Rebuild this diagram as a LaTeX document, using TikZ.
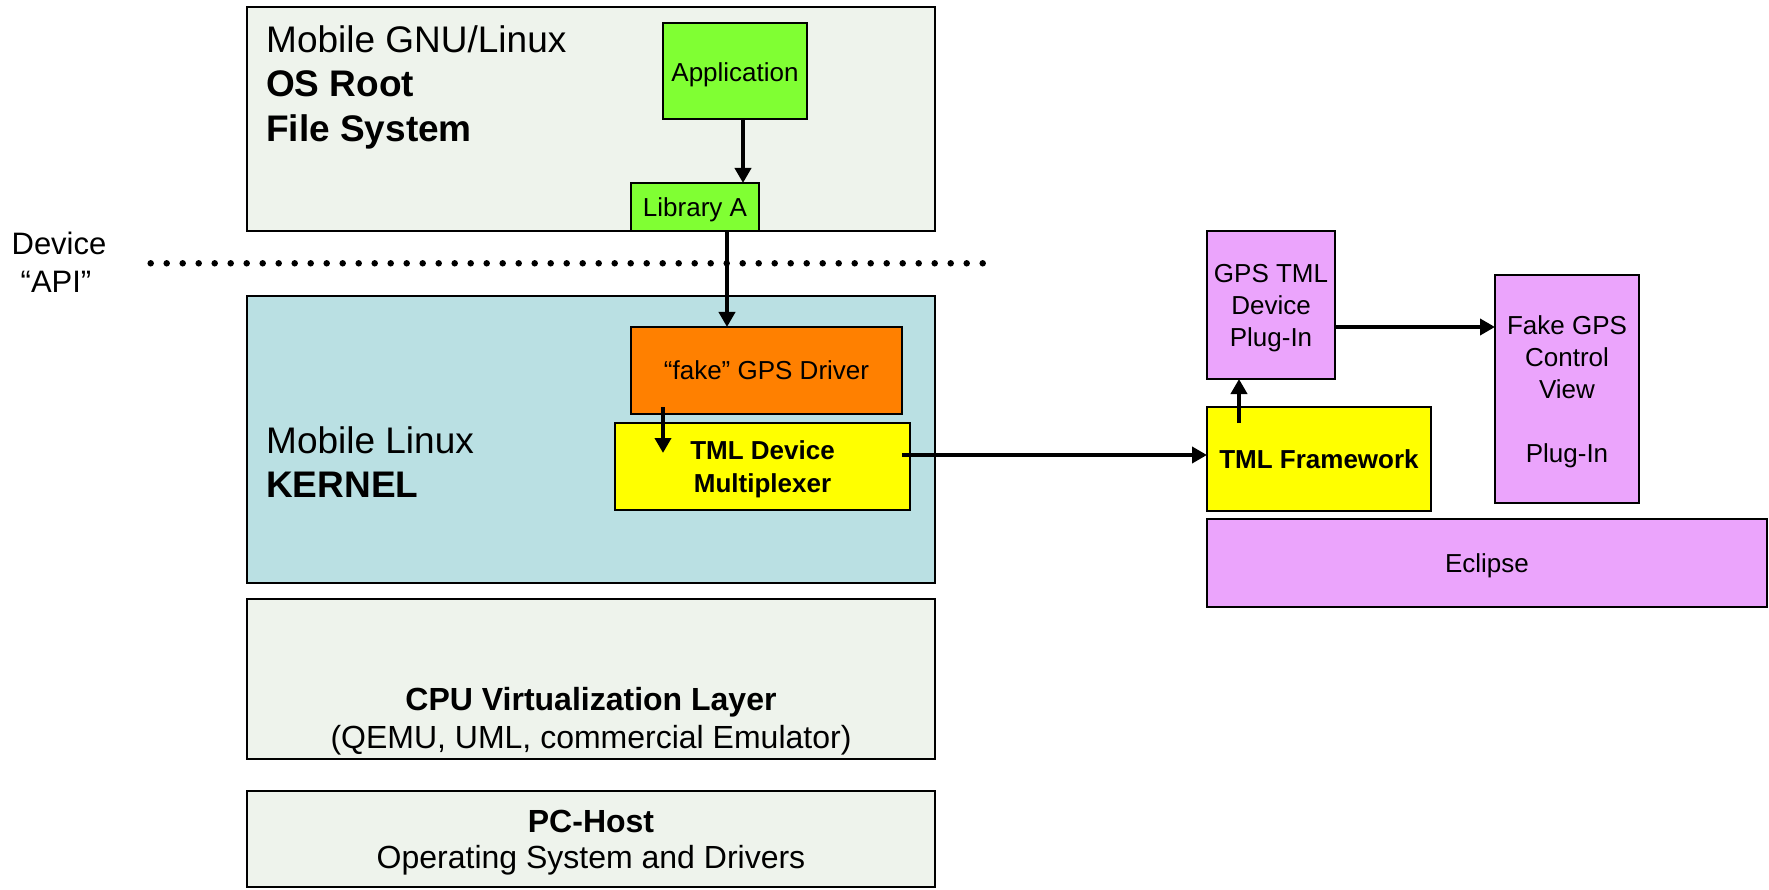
\documentclass[tikz,border=0pt]{standalone}
\usepackage{fontspec}
\setmainfont{Liberation Sans}
\usetikzlibrary{arrows.meta}
\definecolor{paleg}{HTML}{EEF3EC}
\definecolor{kernc}{HTML}{BAE0E3}
\definecolor{limec}{HTML}{80FF33}
\definecolor{orangec}{HTML}{FF8000}
\definecolor{yellowc}{HTML}{FFFF00}
\definecolor{violetc}{HTML}{EBA4FC}
\tikzset{
  box/.style={draw=black, line width=2pt, inner sep=0pt, outer sep=0pt},
  arr/.style={line width=4pt, -{Triangle[length=15pt,width=16pt]}},
  big/.style={font=\fontsize{37}{44}\selectfont, inner sep=0pt},
  bigb/.style={font=\fontsize{37}{44}\selectfont\bfseries, inner sep=0pt},
  mid/.style={font=\fontsize{32}{38}\selectfont, inner sep=0pt},
  midb/.style={font=\fontsize{32}{38}\selectfont\bfseries, inner sep=0pt},
  dev/.style={font=\fontsize{31}{37}\selectfont, inner sep=0pt},
  small/.style={font=\fontsize{26}{32}\selectfont, align=center, text depth=0pt},
  smallb/.style={font=\fontsize{26}{32.5}\selectfont\bfseries, align=center, text depth=0pt},
  dotline/.style={line width=6.5pt, line cap=round, dash pattern=on 0pt off 16pt}
}
\begin{document}
\begin{tikzpicture}[x=1pt,y=-1pt]
\useasboundingbox (0,0) rectangle (1769,890);

% dotted API line
\coordinate (dl) at (150.7,263.3);
\coordinate (dr) at (983.2,263.3);
\draw[dotline] (dl) -- (dr);

% left stack
\node[box, fill=paleg, minimum width=688pt, minimum height=224pt] (root) at (591,119) {};
\node[box, fill=kernc, minimum width=688pt, minimum height=287pt] (kernel) at (591,439.5) {};
\node[box, fill=paleg, minimum width=688pt, minimum height=160pt] (cpu) at (591,679) {};
\node[box, fill=paleg, minimum width=688pt, minimum height=96pt] (host) at (591,839) {};

\node[box, fill=limec, minimum width=144pt, minimum height=96pt, small] (app) at (735,71) {\raisebox{-2pt}{Application}};
\node[box, fill=limec, minimum width=128pt, minimum height=48pt, small] (lib) at (695,207) {Library A};
\node[box, fill=orangec, minimum width=271pt, minimum height=87pt, small] (fake) at (766.5,370.5) {“fake” GPS Driver};
\node[box, fill=yellowc, minimum width=295pt, minimum height=87pt, smallb] (mux) at (762.5,466.5) {TML Device\\Multiplexer};

% right side
\node[box, fill=yellowc, minimum width=224pt, minimum height=104pt, smallb] (fw) at (1319,459) {TML Framework};
\node[box, fill=violetc, minimum width=128pt, minimum height=148pt, small] (gpsplug) at (1271,305) {GPS TML\\Device\\Plug-In};
\node[box, fill=violetc, minimum width=144pt, minimum height=228pt, small] (fakeview) at (1567,389) {Fake GPS\\Control\\View\\[32pt]Plug-In};
\node[box, fill=violetc, minimum width=560pt, minimum height=88pt, small] (eclipse) at (1487,563) {Eclipse};

% labels
\node[big, anchor=base west] (rt1) at (266,53) {Mobile GNU/Linux};
\node[bigb, anchor=base west] (rt2) at (266,97) {OS Root};
\node[bigb, anchor=base west] (rt3) at (266,142) {File System};
\node[big, anchor=base west] (kt1) at (266,453) {Mobile Linux};
\node[bigb, anchor=base west] (kt2) at (266,497) {KERNEL};
\node[dev, anchor=base] (dv1) at (59,255) {Device};
\node[dev, anchor=base] (dv2) at (56,293) {“API”};
\node[midb, anchor=base] (ct1) at (591,710) {CPU Virtualization Layer};
\node[mid, anchor=base] (ct2) at (591,748) {(QEMU, UML, commercial Emulator)};
\node[midb, anchor=base] (ht1) at (591,832) {PC-Host};
\node[mid, anchor=base] (ht2) at (591,868) {Operating System and Drivers};

% arrows
\draw[arr] ([xshift=8pt]app.south) -- ([xshift=8pt]app.south |- lib.north);
\draw[arr] ([xshift=32pt]lib.south) -- ([xshift=32pt]lib.south |- fake.north);
\coordinate (fm1) at ([xshift=-103.5pt,yshift=7pt]fake.south);
\coordinate (fm2) at ([xshift=-103.5pt,yshift=-30pt]fake.south |- mux.north);
\draw[arr] (fm1) -- (fm2);
\draw[arr] ([xshift=-8pt,yshift=11.5pt]mux.east) -- ([yshift=11.5pt]mux.east -| fw.west);
\draw[arr] ([xshift=-80pt,yshift=-16pt]fw.north) -- ([xshift=-80pt]fw.north |- gpsplug.south);
\draw[arr] ([yshift=-22pt]gpsplug.east) -- ([yshift=-22pt]gpsplug.east -| fakeview.west);
\end{tikzpicture}
\end{document}
